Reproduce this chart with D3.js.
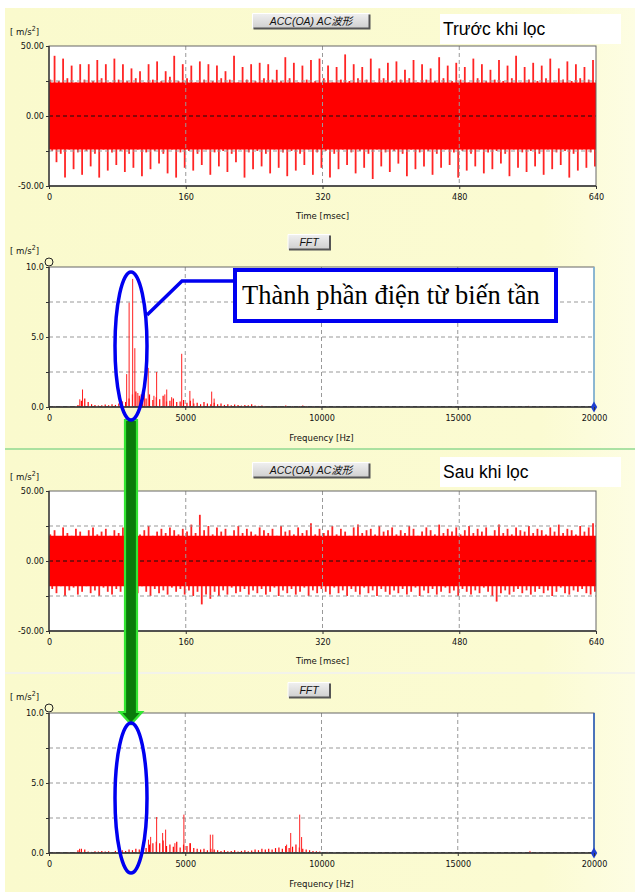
<!DOCTYPE html>
<html>
<head>
<meta charset="utf-8">
<script src="https://cdn.jsdelivr.net/npm/d3@7"></script>
<style>
  body { margin: 0; background: #fff; }
  svg { display: block; }
  text { font-family: "DejaVu Sans Condensed", "Liberation Sans Narrow", Arial, sans-serif; }
</style>
</head>
<body>
<script>
// ---- data ----
const timeTicks = [0, 160, 320, 480, 640];
const freqTicks = [0, 5000, 10000, 15000, 20000];
const waveTicks = [-50, 0, 50];
const fftTicks = [0, 5, 10];
const binMs = 5;          // one peak pair per 5 ms
const noiseBinHz = 125;   // spectrum floor, one value per 125 Hz up to 10 kHz

// waveform before filter: positive / negative peaks per bin
const beforeTop = [
  26, 43, 25, 41, 27, 36, 24, 37, 26, 37, 25, 40, 27, 37, 24, 41,
  26, 37, 25, 34, 27, 32, 24, 37, 26, 39, 25, 32, 28, 43, 25, 37,
  27, 36, 24, 39, 26, 37, 25, 36, 27, 32, 26, 43, 24, 35, 26, 37,
  25, 38, 27, 37, 26, 33, 25, 42, 27, 38, 24, 36, 26, 40, 25, 41,
  27, 36, 24, 35, 26, 44, 25, 37, 27, 35, 26, 41, 24, 34, 27, 38,
  25, 39, 26, 33, 27, 40, 24, 37, 26, 34, 25, 42, 27, 36, 25, 38,
  26, 35, 24, 41, 27, 37, 25, 33, 26, 40, 25, 36, 27, 43, 24, 35,
  26, 38, 25, 36, 27, 41, 24, 34, 26, 39, 25, 37, 27, 35, 26, 40
];
const beforeBot = [
  -25, -33, -27, -44, -24, -38, -26, -42, -25, -36, -27, -44, -24, -39, -26, -35,
  -25, -40, -27, -37, -24, -43, -26, -38, -25, -34, -27, -41, -24, -44, -26, -37,
  -25, -39, -27, -35, -24, -42, -26, -36, -25, -40, -27, -33, -24, -44, -26, -38,
  -25, -36, -27, -41, -24, -37, -26, -43, -25, -39, -27, -35, -24, -42, -26, -37,
  -25, -44, -27, -38, -24, -35, -26, -41, -25, -37, -27, -45, -24, -36, -26, -40,
  -25, -34, -27, -43, -24, -38, -26, -36, -25, -42, -27, -37, -24, -35, -26, -44,
  -25, -39, -27, -36, -24, -41, -26, -38, -25, -34, -27, -43, -24, -37, -26, -40,
  -25, -36, -27, -42, -24, -38, -26, -35, -25, -44, -27, -39, -24, -37, -26, -36
];
const beforeCore = 24;

// waveform after filter
const afterTop = [
  19, 22, 17, 24, 20, 18, 23, 21, 17, 22, 24, 19, 21, 23, 18, 22,
  20, 24, 18, 21, 23, 19, 22, 25, 18, 21, 23, 20, 24, 22, 19, 23,
  21, 26, 20, 33, 22, 25, 19, 24, 21, 23, 18, 22, 25, 20, 23, 21,
  19, 24, 22, 20, 23, 18, 25, 21, 22, 19, 24, 20, 22, 27, 19, 23,
  20, 22, 25, 19, 23, 21, 18, 24, 26, 20, 22, 23, 19, 25, 21, 22,
  24, 19, 22, 20, 25, 23, 18, 21, 24, 22, 19, 26, 20, 23, 21, 24,
  19, 22, 25, 20, 23, 21, 24, 18, 22, 26, 20, 23, 19, 24, 22, 21,
  25, 20, 23, 22, 19, 24, 21, 26, 20, 23, 22, 19, 25, 21, 24, 27
];
const afterBot = [
  -20, -23, -18, -25, -21, -19, -24, -22, -18, -23, -21, -25, -19, -22, -24, -20,
  -22, -19, -24, -21, -23, -18, -22, -25, -20, -23, -21, -24, -19, -22, -20, -24,
  -21, -25, -22, -31, -24, -27, -22, -25, -21, -24, -19, -23, -22, -20, -24, -21,
  -23, -20, -24, -22, -19, -25, -21, -23, -20, -24, -22, -19, -25, -21, -23, -20,
  -22, -24, -19, -23, -21, -25, -20, -22, -24, -19, -23, -21, -25, -20, -22, -24,
  -21, -23, -20, -24, -22, -19, -25, -21, -23, -20, -24, -22, -19, -23, -21, -25,
  -20, -22, -24, -21, -23, -19, -22, -25, -29, -23, -21, -24, -22, -20, -23, -21,
  -24, -22, -20, -23, -21, -25, -22, -19, -23, -24, -21, -22, -20, -23, -24, -22
];
const afterCore = 18;

// spectrum before filter
const beforeNoise = [
  0.02, 0.03, 0.02, 0.03, 0.04, 0.03, 0.05, 0.06,
  0.15, 0.45, 0.60, 0.35, 0.20, 0.15, 0.10, 0.12,
  0.18, 0.12, 0.20, 0.15, 0.25, 0.18, 0.35, 0.60,
  0.90, 1.10, 0.80, 0.70, 0.60, 0.90, 0.50, 0.70,
  0.55, 0.80, 0.40, 0.45, 0.60, 0.35, 0.40, 0.50,
  0.30, 0.45, 0.25, 0.30, 0.20, 0.35, 0.25, 0.20,
  0.30, 0.20, 0.25, 0.15, 0.20, 0.12, 0.18, 0.15,
  0.10, 0.15, 0.12, 0.20, 0.10, 0.08, 0.10, 0.06,
  0.06, 0.08, 0.05, 0.07, 0.05, 0.10, 0.06, 0.05,
  0.07, 0.05, 0.10, 0.06, 0.05, 0.06, 0.04, 0.05
];
const beforePeaksHz = [1130, 1230, 2700, 2850, 2940, 3070, 3150, 3260, 3380, 3500, 3640, 3850, 3950, 4250, 4320, 4500, 4870, 5170, 5290, 5970, 6060,
  10400, 10800, 11000, 12200, 14000, 15500, 17600, 18200];
const beforePeaksAmp = [0.55, 1.25, 0.4, 2.35, 7.45, 9.15, 4.2, 1.0, 0.9, 1.3, 2.8, 0.8, 2.5, 0.9, 1.25, 0.7, 3.8, 1.15, 0.6, 1.1, 0.6,
  0.05, 0.06, 0.05, 0.04, 0.03, 0.04, 0.08, 0.04];

// spectrum after filter
const afterNoise = [
  0.02, 0.03, 0.03, 0.04, 0.03, 0.05, 0.04, 0.06,
  0.20, 0.30, 0.25, 0.10, 0.08, 0.12, 0.10, 0.15,
  0.10, 0.12, 0.08, 0.15, 0.10, 0.20, 0.15, 0.25,
  0.20, 0.30, 0.25, 0.40, 0.35, 0.60, 0.70, 0.80,
  0.70, 0.90, 0.50, 0.60, 0.45, 0.80, 0.40, 0.60,
  0.50, 0.70, 0.35, 0.30, 0.25, 0.30, 0.20, 0.30,
  0.25, 0.20, 0.15, 0.20, 0.12, 0.15, 0.20, 0.10,
  0.15, 0.20, 0.12, 0.18, 0.25, 0.20, 0.30, 0.25,
  0.30, 0.25, 0.35, 0.40, 0.30, 0.50, 0.35, 0.45,
  0.60, 0.40, 0.30, 0.25, 0.20, 0.15, 0.12, 0.10
];
const afterPeaksHz = [1120, 3650, 3730, 3950, 4170, 4280, 4620, 4950, 5170, 5920, 6010, 8720, 8870, 9200, 9270,
  10200, 10800, 11500, 12300, 13600, 15200, 16800, 17650, 18900];
const afterPeaksAmp = [0.3, 0.95, 1.15, 2.57, 1.43, 1.67, 0.7, 2.74, 0.7, 1.31, 1.31, 0.6, 1.43, 2.74, 1.14,
  0.08, 0.06, 0.05, 0.05, 0.04, 0.04, 0.05, 0.15, 0.04];

// ---- drawing ----
const W = 635, H = 892;
const svg = d3.select('body').append('svg').attr('width', W).attr('height', H);
const defs = svg.append('defs');

const bg = defs.append('linearGradient').attr('id', 'bg');
bg.append('stop').attr('offset', '0%').attr('stop-color', '#fafacd');
bg.append('stop').attr('offset', '85%').attr('stop-color', '#fbfbd2');
bg.append('stop').attr('offset', '100%').attr('stop-color', '#fdfde3');
const btn = defs.append('linearGradient').attr('id', 'btn').attr('x1', 0).attr('x2', 0).attr('y1', 0).attr('y2', 1);
btn.append('stop').attr('offset', '0%').attr('stop-color', '#f0f0f0');
btn.append('stop').attr('offset', '100%').attr('stop-color', '#cfcfcf');

svg.append('rect').attr('width', W).attr('height', H).attr('fill', '#fff');
svg.append('rect').attr('x', 5).attr('y', 8).attr('width', W - 5).attr('height', H - 8).attr('fill', 'url(#bg)');

// panel separators
svg.append('line').attr('x1', 5).attr('x2', W).attr('y1', 449).attr('y2', 449)
  .attr('stroke', '#8fd88f').attr('stroke-width', 1.5);
svg.append('line').attr('x1', 5).attr('x2', W).attr('y1', 673).attr('y2', 673)
  .attr('stroke', '#f3f3ea').attr('stroke-width', 2);

function button(cx, cy, w, label) {
  const h = 15, g = svg.append('g');
  g.append('rect').attr('x', cx - w / 2).attr('y', cy - h / 2).attr('width', w).attr('height', h).attr('fill', 'url(#btn)');
  g.append('path').attr('d', `M${cx - w / 2},${cy + h / 2} V${cy - h / 2} H${cx + w / 2}`).attr('fill', 'none').attr('stroke', '#fff');
  g.append('path').attr('d', `M${cx - w / 2 + 1},${cy + h / 2} H${cx + w / 2} V${cy - h / 2 + 1}`).attr('fill', 'none')
    .attr('stroke', '#555').attr('stroke-width', 2);
  g.append('text').attr('x', cx).attr('y', cy + 4).attr('text-anchor', 'middle')
    .attr('font-size', 10.5).attr('font-style', 'italic').attr('fill', '#111')
    .style('font-family', 'Arial, "Liberation Sans", "Noto Sans CJK JP", sans-serif')
    .text(label);
}

function unitLabel(x, y) {
  const t = svg.append('text').attr('x', x).attr('y', y).attr('font-size', 9.5).attr('fill', '#111');
  t.append('tspan').text('[ m/s');
  t.append('tspan').attr('font-size', 7).attr('dy', -4).text('2');
  t.append('tspan').attr('dy', 4).text(']');
}

function noteBox(x, y, w, h, label) {
  svg.append('rect').attr('x', x).attr('y', y).attr('width', w).attr('height', h).attr('fill', '#fff');
  svg.append('text').attr('x', x + 3).attr('y', y + 21).attr('font-size', 17.5).attr('fill', '#000')
    .style('font-family', 'Arial, "Liberation Sans", sans-serif').text(label);
}

let clipId = 0;
function frame(left, top, right, bottom) {
  const id = 'clip' + (clipId++);
  defs.append('clipPath').attr('id', id).append('rect')
    .attr('x', left).attr('y', top).attr('width', right - left).attr('height', bottom - top);
  svg.append('rect').attr('x', left).attr('y', top).attr('width', right - left).attr('height', bottom - top)
    .attr('fill', '#fff');
  return id;
}

function styleAxis(g) {
  g.select('.domain').remove();
  g.selectAll('.tick line').attr('stroke', '#333');
  g.selectAll('.tick text').attr('font-size', 9).attr('fill', '#111')
    .style('font-family', '"DejaVu Sans Condensed", "Liberation Sans Narrow", Arial, sans-serif');
}

function wavePanel(top, topArr, botArr, core, titleY, noteY, note) {
  const left = 49, right = 596, bottom = top + 140;
  const x = d3.scaleLinear().domain([0, 640]).range([left, right]);
  const y = d3.scaleLinear().domain([-50, 50]).range([bottom, top]);
  button(311, titleY, 117, 'ACC(OA) AC波形');
  noteBox(440, noteY, 181, 30, note);
  unitLabel(10, top - 11);
  const clip = frame(left, top, right, bottom);
  const plot = svg.append('g').attr('clip-path', `url(#${clip})`);

  // peaks first, solid core over them
  plot.selectAll('line.up').data(topArr).join('line').attr('class', 'up')
    .attr('x1', (d, i) => x(i * binMs + binMs * 0.3)).attr('x2', (d, i) => x(i * binMs + binMs * 0.3))
    .attr('y1', y(0)).attr('y2', d => y(d))
    .attr('stroke', '#ff2424').attr('stroke-width', 1.8);
  plot.selectAll('line.dn').data(botArr).join('line').attr('class', 'dn')
    .attr('x1', (d, i) => x(i * binMs + binMs * 0.75)).attr('x2', (d, i) => x(i * binMs + binMs * 0.75))
    .attr('y1', y(0)).attr('y2', d => y(d))
    .attr('stroke', '#ff2424').attr('stroke-width', 1.8);
  plot.append('path').datum([0, 640])
    .attr('d', d3.area().x(d => x(d)).y0(y(-core)).y1(y(core)))
    .attr('fill', '#ff0000');

  // grid over the signal
  plot.selectAll('line.vg').data(timeTicks.slice(1, -1)).join('line').attr('class', 'vg')
    .attr('x1', d => x(d)).attr('x2', d => x(d)).attr('y1', top).attr('y2', bottom)
    .attr('stroke', '#999').attr('stroke-dasharray', '4,3');
  plot.selectAll('line.hg').data([-25, 25]).join('line').attr('class', 'hg')
    .attr('x1', left).attr('x2', right).attr('y1', d => y(d)).attr('y2', d => y(d))
    .attr('stroke', '#999').attr('stroke-dasharray', '4,3');
  plot.append('line').attr('x1', left).attr('x2', right).attr('y1', y(0)).attr('y2', y(0))
    .attr('stroke', '#111').attr('stroke-dasharray', '4,3');

  svg.append('rect').attr('x', left).attr('y', top).attr('width', right - left).attr('height', bottom - top)
    .attr('fill', 'none').attr('stroke', '#666');
  svg.append('path').attr('d', `M${left},${top} V${bottom} H${right}`).attr('fill', 'none')
    .attr('stroke', '#333').attr('stroke-width', 1.3);

  svg.append('g').attr('transform', `translate(${left},0)`)
    .call(d3.axisLeft(y).tickValues(waveTicks).tickSize(3).tickPadding(2).tickFormat(d => d.toFixed(2)))
    .call(styleAxis);
  svg.append('g').attr('transform', `translate(${left},0)`)
    .call(d3.axisLeft(y).tickValues([-25, 25]).tickSize(3).tickFormat(''))
    .call(styleAxis);
  svg.append('g').attr('transform', `translate(0,${bottom})`)
    .call(d3.axisBottom(x).tickValues(timeTicks).tickSize(3).tickPadding(5).tickFormat(d3.format('d')))
    .call(styleAxis);
  svg.append('text').attr('x', x(320)).attr('y', bottom + 33).attr('text-anchor', 'middle')
    .attr('font-size', 9.5).attr('fill', '#111').text('Time [msec]');
}

function fftPanel(top, noise, peaksHz, peaksAmp, buttonY, edgeColor) {
  const left = 49, right = 594, bottom = top + 140;
  const x = d3.scaleLinear().domain([0, 20000]).range([left, right]);
  const y = d3.scaleLinear().domain([0, 10]).range([bottom, top]);
  button(309, buttonY, 42, 'FFT');
  unitLabel(10, top - 13);
  const clip = frame(left, top, right, bottom);
  const plot = svg.append('g').attr('clip-path', `url(#${clip})`);

  plot.selectAll('line.vg').data(freqTicks.slice(1, -1)).join('line').attr('class', 'vg')
    .attr('x1', d => x(d)).attr('x2', d => x(d)).attr('y1', top).attr('y2', bottom)
    .attr('stroke', '#999').attr('stroke-dasharray', '4,3');
  plot.selectAll('line.hg').data([2.5, 5, 7.5]).join('line').attr('class', 'hg')
    .attr('x1', left).attr('x2', right).attr('y1', d => y(d)).attr('y2', d => y(d))
    .attr('stroke', '#999').attr('stroke-dasharray', '4,3');

  plot.selectAll('line.nz').data(noise).join('line').attr('class', 'nz')
    .attr('x1', (d, i) => x(i * noiseBinHz + noiseBinHz / 2)).attr('x2', (d, i) => x(i * noiseBinHz + noiseBinHz / 2))
    .attr('y1', y(0)).attr('y2', d => y(d))
    .attr('stroke', '#ff0000').attr('stroke-width', 1.2);
  plot.selectAll('line.pk').data(peaksHz).join('line').attr('class', 'pk')
    .attr('x1', d => x(d)).attr('x2', d => x(d))
    .attr('y1', y(0)).attr('y2', (d, i) => y(peaksAmp[i]))
    .attr('stroke', '#ff2020').attr('stroke-width', 1);
  plot.append('line').attr('x1', left).attr('x2', right).attr('y1', y(0) - 0.5).attr('y2', y(0) - 0.5)
    .attr('stroke', '#555').attr('stroke-dasharray', '4,3');

  svg.append('rect').attr('x', left).attr('y', top).attr('width', right - left).attr('height', bottom - top)
    .attr('fill', 'none').attr('stroke', '#666');
  svg.append('path').attr('d', `M${left},${top} V${bottom} H${right}`).attr('fill', 'none')
    .attr('stroke', '#333').attr('stroke-width', 1.3);
  svg.append('line').attr('x1', right).attr('x2', right).attr('y1', top).attr('y2', bottom)
    .attr('stroke', edgeColor).attr('stroke-width', 1.5);
  svg.append('path').attr('d', d3.symbol(d3.symbolDiamond, 36)())
    .attr('transform', `translate(${right},${bottom})`).attr('fill', '#1f3fd0');
  svg.append('circle').attr('cx', left).attr('cy', top - 5).attr('r', 4)
    .attr('fill', 'none').attr('stroke', '#222');

  svg.append('g').attr('transform', `translate(${left},0)`)
    .call(d3.axisLeft(y).tickValues(fftTicks).tickSize(3).tickPadding(2).tickFormat(d => d.toFixed(1)))
    .call(styleAxis);
  svg.append('g').attr('transform', `translate(${left},0)`)
    .call(d3.axisLeft(y).tickValues([2.5, 7.5]).tickSize(3).tickFormat(''))
    .call(styleAxis);
  svg.append('g').attr('transform', `translate(0,${bottom})`)
    .call(d3.axisBottom(x).tickValues(freqTicks).tickSize(3).tickPadding(5).tickFormat(d3.format('d')))
    .call(styleAxis);
  svg.append('text').attr('x', x(10000)).attr('y', bottom + 34).attr('text-anchor', 'middle')
    .attr('font-size', 9.5).attr('fill', '#111').text('Frequency [Hz]');
}

wavePanel(46, beforeTop, beforeBot, beforeCore, 21, 14, 'Trước khi lọc');
fftPanel(267, beforeNoise, beforePeaksHz, beforePeaksAmp, 242, '#7fb9df');
wavePanel(491, afterTop, afterBot, afterCore, 470, 457, 'Sau khi lọc');
fftPanel(713, afterNoise, afterPeaksHz, afterPeaksAmp, 690, '#2a5fc0');

// green arrow between the two spectra
const ag = svg.append('g');
ag.append('path').attr('d', 'M125,420 H137 V712 H142 L131,724 L120,712 H125 Z')
  .attr('fill', '#0a7a0a').attr('stroke', '#33e633').attr('stroke-width', 2.2).attr('stroke-linejoin', 'miter');

// annotations
const blue = '#0000f0';
svg.append('ellipse').attr('cx', 131).attr('cy', 346).attr('rx', 16).attr('ry', 74)
  .attr('fill', 'none').attr('stroke', blue).attr('stroke-width', 3.5);
svg.append('ellipse').attr('cx', 131).attr('cy', 798).attr('rx', 16).attr('ry', 75)
  .attr('fill', 'none').attr('stroke', blue).attr('stroke-width', 3.5);
svg.append('path').attr('d', 'M147,315 L182,281 H234').attr('fill', 'none')
  .attr('stroke', blue).attr('stroke-width', 3.5);
svg.append('rect').attr('x', 235).attr('y', 270).attr('width', 321).attr('height', 51)
  .attr('fill', '#fff').attr('stroke', blue).attr('stroke-width', 4);
svg.append('text').attr('x', 242).attr('y', 304).attr('font-size', 26.5).attr('fill', '#000')
  .style('font-family', '"Liberation Serif", "DejaVu Serif", serif')
  .text('Thành phần điện từ biến tần');
</script>
</body>
</html>
